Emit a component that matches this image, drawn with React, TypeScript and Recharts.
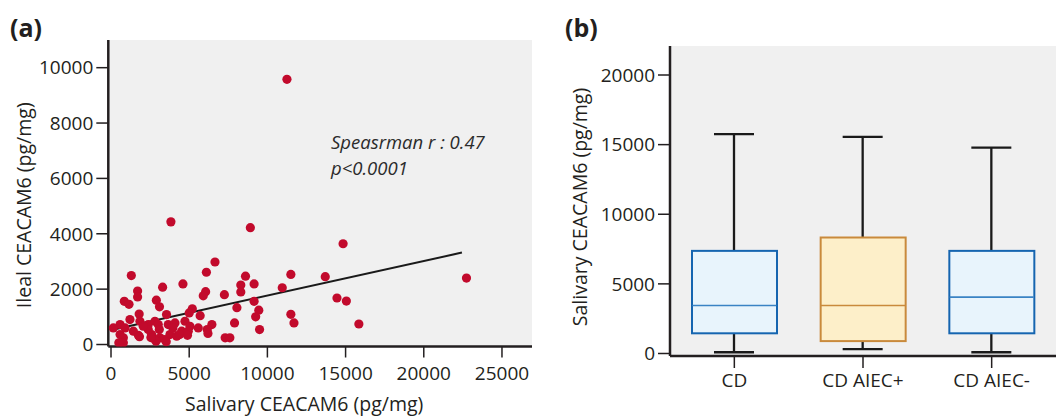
import {
  ScatterChart,
  ComposedChart,
  Scatter,
  Bar,
  XAxis,
  YAxis,
  CartesianGrid,
  ReferenceLine,
  Label,
} from 'recharts';

const FONT = '"Open Sans", "Noto Sans", sans-serif';
const INK = '#231f20';
const PANEL_BG = '#f0f0f0';

// (a) salivary vs ileal CEACAM6, one entry per patient
const salivaryValues = [
  11250, 3830, 8910, 14840, 6650, 6100, 1300, 8600, 11500, 13700,
  22730, 4600, 9150, 8300, 3300, 10950, 1700, 6050, 8300, 7250,
  5900, 1700, 14450, 2900, 15050, 850, 9150, 1150, 3100, 8050,
  5200, 9450, 11500, 3550, 1800, 5700, 5000, 9250, 11700, 15850,
  7900, 6450, 9500, 6150, 6200, 7300, 7600,
  580, 150, 1210, 1850, 2380, 2810, 3660, 4090, 4730, 5050,
  4520, 4940, 5580, 580, 790, 1750, 2600, 3130, 3450, 3770,
  4200, 790, 2810, 2380, 1430, 2060, 3020, 900, 500, 2880,
  3530, 1820, 2550, 4390, 4890, 3960, 3090,
];
const ilealValues = [
  9580, 4430, 4220, 3640, 2980, 2610, 2490, 2470, 2530, 2450,
  2400, 2190, 2190, 2150, 2070, 2050, 1930, 1910, 1900, 1800,
  1760, 1720, 1680, 1600, 1570, 1560, 1560, 1450, 1360, 1330,
  1290, 1240, 1090, 1080, 1100, 1040, 1140, 1000, 780, 740,
  780, 720, 540, 540, 400, 240, 240,
  720, 600, 900, 840, 720, 840, 720, 780, 840, 660,
  480, 480, 600, 360, 240, 330, 360, 240, 180, 360,
  300, 60, 180, 540, 480, 660, 720, 600, 60, 120,
  100, 280, 250, 360, 330, 600, 540,
];
const fitSalivary = [320, 22440];
const fitIleal = [560, 3320];
const salivaryTicks = [0, 5000, 10000, 15000, 20000, 25000];
const ilealTicks = [0, 2000, 4000, 6000, 8000, 10000];

// (b) salivary CEACAM6 by group
const groups = ['CD', 'CD AIEC+', 'CD AIEC-'];
const whiskerLow = [90, 310, 90];
const quartile1 = [1450, 890, 1450];
const medians = [3450, 3450, 4050];
const quartile3 = [7370, 8330, 7370];
const whiskerHigh = [15750, 15550, 14780];
const groupTicks = [0, 5000, 10000, 15000, 20000];

const BOX_STYLE: Record<string, { fill: string; stroke: string; median: string }> = {
  CD: { fill: '#e8f4fc', stroke: '#1565b0', median: '#3a83c4' },
  'CD AIEC+': { fill: '#fdefc9', stroke: '#c98a3c', median: '#c98a3c' },
  'CD AIEC-': { fill: '#e8f4fc', stroke: '#1565b0', median: '#3a83c4' },
};

const scatterData = salivaryValues.map((x, i) => ({ x, y: ilealValues[i] }));
const boxData = groups.map((group, i) => ({
  group,
  low: whiskerLow[i],
  q1: quartile1[i],
  median: medians[i],
  q3: quartile3[i],
  high: whiskerHigh[i],
}));

const tickStyle = { fill: INK, fontSize: 19, fontFamily: FONT };
const axisLineStyle = { stroke: INK, strokeWidth: 2.5 };
const tickLineStyle = { stroke: INK, strokeWidth: 1.5 };

function yTitle(text: string, dx: number, dy: number) {
  return (props: any) => {
    const vb = props.viewBox || { x: 0, y: 0, width: 0, height: 0 };
    const cx = vb.x + dx;
    const cy = vb.y + vb.height / 2 + dy;
    return (
      <text
        x={cx}
        y={cy}
        transform={`rotate(-90 ${cx} ${cy})`}
        textAnchor="middle"
        dominantBaseline="central"
        fill={INK}
        fontSize={19.5}
        fontFamily={FONT}
      >
        {text}
      </text>
    );
  };
}

function xTitle(text: string, dx: number, dy: number) {
  return (props: any) => {
    const vb = props.viewBox || { x: 0, y: 0, width: 0, height: 0 };
    const cx = vb.x + vb.width / 2 + dx;
    const cy = vb.y + dy;
    return (
      <text x={cx} y={cy} textAnchor="middle" dominantBaseline="central" fill={INK} fontSize={19.5} fontFamily={FONT}>
        {text}
      </text>
    );
  };
}

const Dot = (props: any) => <circle cx={props.cx} cy={props.cy} r={4.6} fill="#c20a2c" />;

const Whisker = (props: any) => {
  const { x, y, width, height } = props;
  const mid = x + width / 2;
  return (
    <g stroke="#1a1a1a" strokeWidth={2.3}>
      <line x1={mid} x2={mid} y1={y} y2={y + height} />
      <line x1={x} x2={x + width} y1={y} y2={y} />
      <line x1={x} x2={x + width} y1={y + height} y2={y + height} />
    </g>
  );
};

const Box = (props: any) => {
  const { x, y, width, height, payload } = props;
  const s = BOX_STYLE[payload.group];
  return <rect x={x} y={y} width={width} height={height} fill={s.fill} stroke={s.stroke} strokeWidth={2} />;
};

const MedianLine = (props: any) => {
  const s = BOX_STYLE[props.payload.group];
  return <line x1={props.cx - 42} x2={props.cx + 42} y1={props.cy} y2={props.cy} stroke={s.median} strokeWidth={1.6} />;
};

const panelTag = (left: number): React.CSSProperties => ({
  position: 'absolute',
  left,
  top: 12,
  fontFamily: FONT,
  fontWeight: 700,
  fontSize: 25,
  lineHeight: '30px',
  color: INK,
});

export default function App() {
  return (
    <div style={{ position: 'absolute', left: 0, top: 0, width: 1058, height: 417, background: '#fff' }}>
      <div style={panelTag(10)}>(a)</div>
      <div style={panelTag(565)}>(b)</div>

      <div style={{ position: 'absolute', left: 0, top: 0 }}>
        <ScatterChart width={532} height={417} margin={{ top: 40, right: 0, bottom: 0, left: 0 }}>
          <CartesianGrid fill={PANEL_BG} stroke="none" horizontal={false} vertical={false} />
          <XAxis
            type="number"
            dataKey="x"
            domain={[-173, 26920]}
            ticks={salivaryTicks}
            allowDataOverflow
            height={70.5}
            tickSize={11}
            tickMargin={9}
            tick={tickStyle}
            axisLine={axisLineStyle}
            tickLine={tickLineStyle}
          >
            <Label content={xTitle('Salivary CEACAM6 (pg/mg)', -16, 57)} />
          </XAxis>
          <YAxis
            type="number"
            dataKey="y"
            domain={[-72, 11000]}
            ticks={ilealTicks}
            allowDataOverflow
            width={108.3}
            tickSize={12}
            tickMargin={3}
            tick={tickStyle}
            axisLine={axisLineStyle}
            tickLine={tickLineStyle}
          >
            <Label content={yTitle('Ileal CEACAM6 (pg/mg)', 23.5, 12)} />
          </YAxis>
          <Scatter data={scatterData} shape={Dot} isAnimationActive={false} />
          <ReferenceLine
            segment={[
              { x: fitSalivary[0], y: fitIleal[0] },
              { x: fitSalivary[1], y: fitIleal[1] },
            ]}
            stroke="#1a1a1a"
            strokeWidth={2}
          />
        </ScatterChart>
      </div>

      <div
        style={{
          position: 'absolute',
          left: 331,
          top: 129,
          fontFamily: FONT,
          fontStyle: 'italic',
          fontSize: 18.5,
          lineHeight: '26px',
          color: '#2b2b2b',
          whiteSpace: 'pre',
        }}
      >
        {'Speasrman r : 0.47\np<0.0001'}
      </div>

      <div style={{ position: 'absolute', left: 532, top: 0 }}>
        <ComposedChart width={526} height={417} data={boxData} margin={{ top: 46, right: 2, bottom: 0, left: 0 }}>
          <CartesianGrid fill={PANEL_BG} stroke="none" horizontal={false} vertical={false} />
          <XAxis xAxisId="w" dataKey="group" type="category" hide />
          <XAxis
            dataKey="group"
            type="category"
            height={61}
            tickSize={12}
            tickMargin={6}
            tick={tickStyle}
            axisLine={axisLineStyle}
            tickLine={tickLineStyle}
          />
          <YAxis
            type="number"
            domain={[-180, 22083]}
            ticks={groupTicks}
            allowDataOverflow
            width={138}
            tickSize={12}
            tickMargin={3}
            tick={tickStyle}
            axisLine={axisLineStyle}
            tickLine={tickLineStyle}
          >
            <Label content={yTitle('Salivary CEACAM6 (pg/mg)', 47, 6)} />
          </YAxis>
          <Bar
            xAxisId="w"
            dataKey={(d: any) => [d.low, d.high]}
            barSize={40}
            shape={Whisker}
            isAnimationActive={false}
          />
          <Bar dataKey={(d: any) => [d.q1, d.q3]} barSize={85} shape={Box} isAnimationActive={false} />
          <Scatter dataKey="median" shape={MedianLine} isAnimationActive={false} />
        </ComposedChart>
      </div>
    </div>
  );
}
